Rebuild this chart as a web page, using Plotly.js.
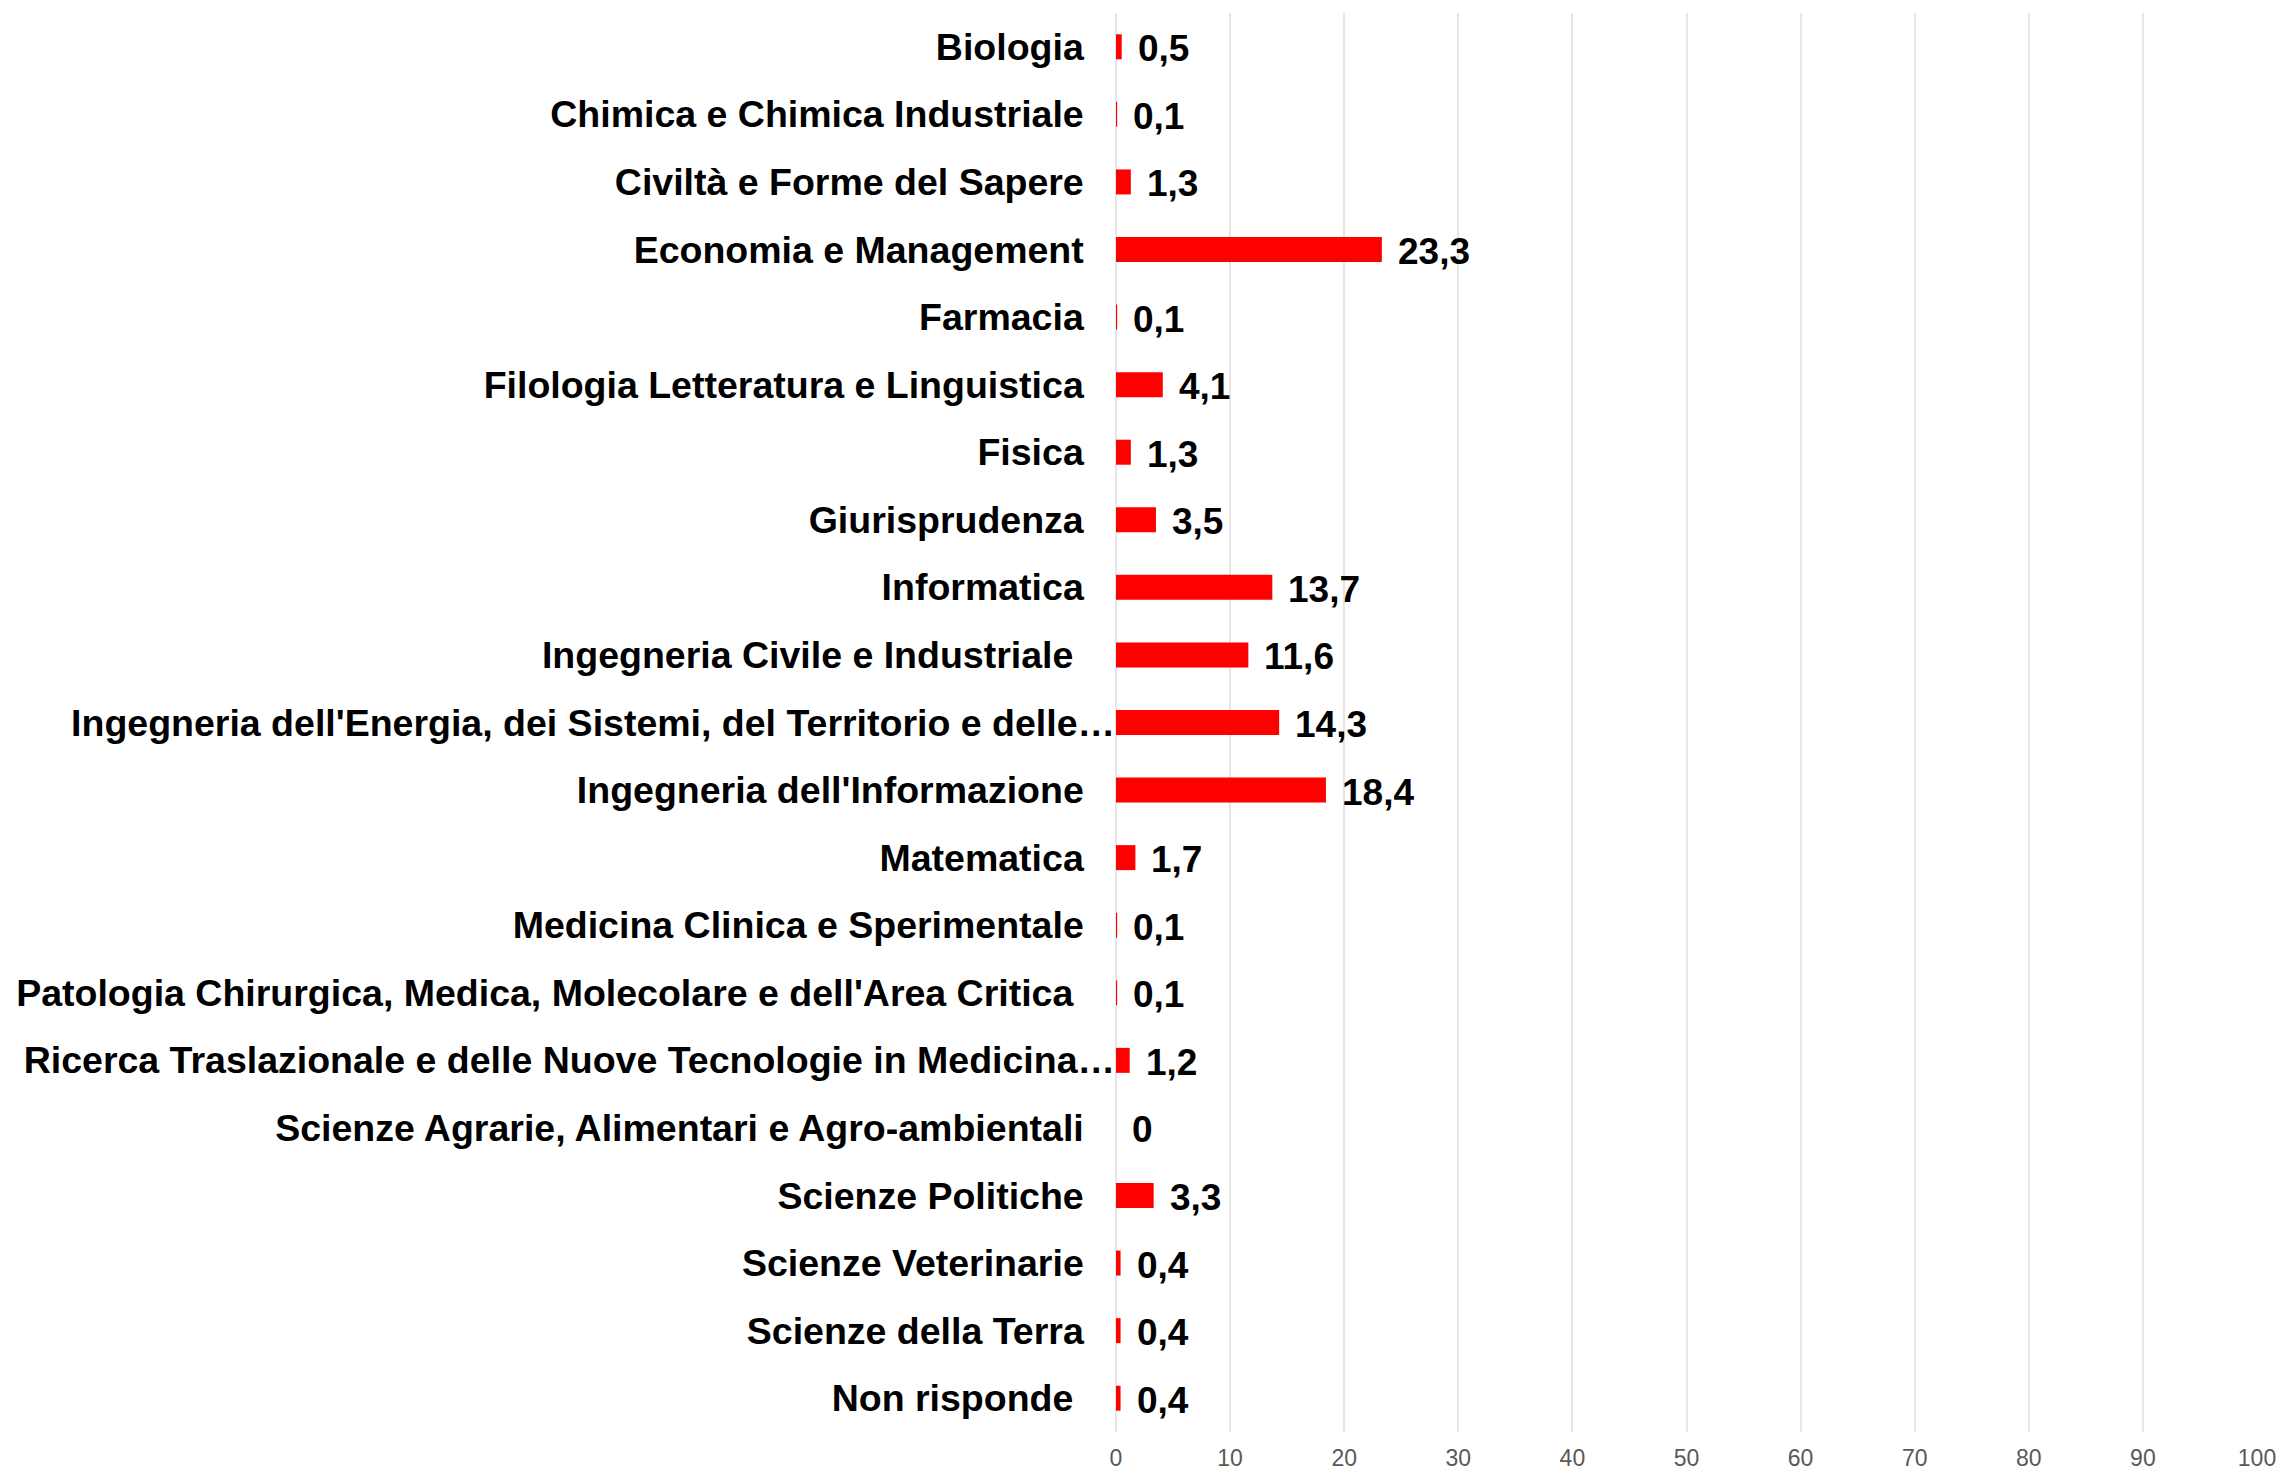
<!DOCTYPE html>
<html>
<head>
<meta charset="utf-8">
<script src="https://cdn.plot.ly/plotly-3.0.1.min.js"></script>
<style>html,body{margin:0;padding:0;background:#fff;}#chart{width:2282px;height:1472px;}</style>
</head>
<body>
<div id="chart"></div>
<script>
var NB = '\u00A0';
var categories = [
  "Biologia",
  "Chimica e Chimica Industriale",
  "Civiltà e Forme del Sapere",
  "Economia e Management",
  "Farmacia",
  "Filologia Letteratura e Linguistica",
  "Fisica",
  "Giurisprudenza",
  "Informatica",
  "Ingegneria Civile e Industriale ",
  "Ingegneria dell'Energia, dei Sistemi, del Territorio e delle…",
  "Ingegneria dell'Informazione",
  "Matematica",
  "Medicina Clinica e Sperimentale",
  "Patologia Chirurgica, Medica, Molecolare e dell'Area Critica ",
  "Ricerca Traslazionale e delle Nuove Tecnologie in Medicina…",
  "Scienze Agrarie, Alimentari e Agro-ambientali",
  "Scienze Politiche",
  "Scienze Veterinarie",
  "Scienze della Terra",
  "Non risponde "
];
var values = [0.5, 0.1, 1.3, 23.3, 0.1, 4.1, 1.3, 3.5, 13.7, 11.6, 14.3, 18.4, 1.7, 0.1, 0.1, 1.2, 0, 3.3, 0.4, 0.4, 0.4];
var xTicks = [0, 10, 20, 30, 40, 50, 60, 70, 80, 90, 100];

// tick label text: trailing spaces kept visible, padding before the axis except for truncated labels
var tickText = categories.map(function (c) {
  var t = c.replace(/ $/, NB);
  if (/…$/.test(t)) return t;
  return t + NB + NB + NB;
});
var valueText = values.map(function (v) { return String(v).replace('.', ','); });

var trace = {
  type: 'bar',
  orientation: 'h',
  y: categories,
  x: values,
  marker: {color: '#FF0000'},
  hoverinfo: 'none'
};

var annotations = values.map(function (v, i) {
  return {
    x: v, y: categories[i], xref: 'x', yref: 'y',
    text: valueText[i], showarrow: false,
    xanchor: 'left', yanchor: 'middle', xshift: 14, yshift: -2,
    font: {family: 'Liberation Sans, Arial, sans-serif', size: 37, color: '#000000', weight: 'bold'}
  };
});

var layout = {
  width: 2282, height: 1472,
  margin: {l: 1116, r: 25, t: 13, b: 40, pad: 0},
  paper_bgcolor: '#ffffff', plot_bgcolor: '#ffffff',
  showlegend: false,
  bargap: 0.63,
  xaxis: {
    range: [0, 100],
    tickvals: xTicks,
    ticktext: xTicks.map(String),
    showgrid: true, gridcolor: '#e6e6e6', gridwidth: 2,
    zeroline: true, zerolinecolor: '#e6e6e6', zerolinewidth: 2,
    showline: false, ticks: '',
    ticklabelstandoff: 10,
    tickfont: {family: 'Liberation Sans, Arial, sans-serif', size: 23, color: '#595959'},
    fixedrange: true
  },
  yaxis: {
    autorange: 'reversed',
    tickmode: 'array',
    tickvals: categories,
    ticktext: tickText,
    showgrid: false, zeroline: false, showline: false, ticks: '',
    automargin: false,
    tickfont: {family: 'Liberation Sans, Arial, sans-serif', size: 37.5, color: '#000000', weight: 'bold'},
    fixedrange: true
  },
  annotations: annotations
};

Plotly.newPlot('chart', [trace], layout, {staticPlot: true, displayModeBar: false});
</script>
</body>
</html>
